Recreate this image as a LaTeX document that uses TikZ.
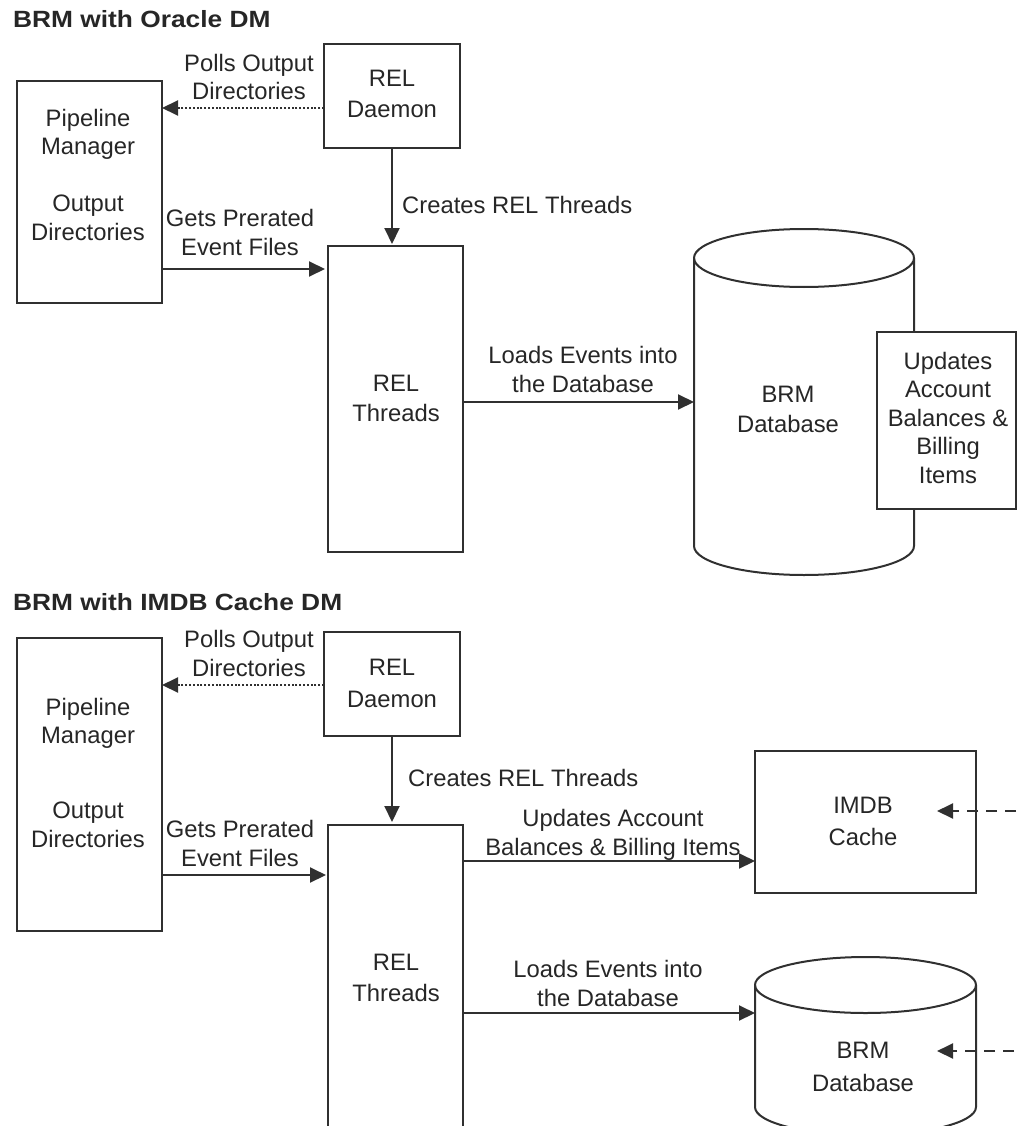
\documentclass[tikz,border=0pt]{standalone}
\usepackage{fontspec}
\setmainfont{Liberation Sans}
\usetikzlibrary{arrows.meta}
\definecolor{ln}{HTML}{303030}
\definecolor{tx}{HTML}{262626}
\begin{document}
\begin{tikzpicture}[x=1pt,y=-1pt,
  box/.style={draw=ln, line width=2pt, fill=white, inner sep=0pt, outer sep=0pt},
  anchorbox/.style={inner sep=0pt, outer sep=0pt},
  lbl/.style={text=tx, font=\fontsize{23.8}{28.5}\selectfont, align=center, inner sep=0pt, anchor=base},
  lblw/.style={text=tx, font=\fontsize{23.8}{28.5}\selectfont, inner sep=0pt, anchor=base west},
  ttl/.style={text=tx, font=\fontsize{23.5}{26}\selectfont\bfseries, inner sep=0pt, anchor=base west},
  arr/.style={draw=ln, line width=2pt, -{Triangle[length=16pt,width=15pt]}},
  dotarr/.style={arr, dash pattern=on 2pt off 1.8pt},
  dasharr/.style={arr, dash pattern=on 11pt off 8pt},
  cyl/.style={draw=ln, line width=2pt, fill=white}]
\useasboundingbox (0,0) rectangle (1018,1126);
\clip (0,0) rectangle (1018,1126);

% ================= TOP: BRM with Oracle DM =================
\node[ttl] (title1) at (13,28) {\scalebox{1.12}[1]{BRM with Oracle DM}};

\node[box, minimum width=145pt, minimum height=222pt] (pm1) at (89.5,192) {};
\node[lbl] (pm1t) at (88,240) {Pipeline\\Manager\\[28.5pt]Output\\Directories};

\node[box, minimum width=136pt, minimum height=104pt] (dae1) at (392,96) {};
\node[lbl] (dae1t) at (392,118) {REL\\[2.5pt]Daemon};

\node[box, minimum width=135pt, minimum height=306pt] (rel1) at (395.5,399) {};
\node[lbl] (rel1t) at (396,421) {REL\\[1.5pt]Threads};

% cylinder (BRM Database)
\draw[cyl] (694,258) -- (694,546) arc[start angle=180, end angle=0, x radius=110, y radius=29]
  -- (914,258) arc[start angle=0, end angle=-180, x radius=110, y radius=29] -- cycle;
\draw[draw=ln, line width=2pt] (694,258) arc[start angle=180, end angle=0, x radius=110, y radius=29];
\node[anchorbox, minimum width=220pt, minimum height=288pt] (db1) at (804,402) {};
\node[lbl] (db1t) at (788,432) {BRM\\[1.5pt]Database};

\node[box, minimum width=139pt, minimum height=177pt] (upd1) at (946.5,420.5) {};
\node[lbl] (upd1t) at (948,483) {Updates\\Account\\Balances \&\\Billing\\Items};

% connectors
\draw[dotarr] (dae1.west |- 0,108) -- (pm1.east |- 0,108);
\node[lbl] (polls1) at (249,100) {Polls Output\\Directories};

\draw[arr, shorten >=2pt] (dae1.south) -- (dae1.south |- rel1.north);
\node[lblw] (creates1) at (402,213) {Creates REL Threads};

\draw[arr, shorten >=3pt] (pm1.east |- 0,269) -- (rel1.west |- 0,269);
\node[lbl] (gets1) at (240,255) {Gets Prerated\\Event Files};

\draw[arr] (rel1.east |- 0,402) -- (db1.west |- 0,402);
\node[lbl] (loads1) at (583,392) {Loads Events into\\the Database};

% ================= BOTTOM: BRM with IMDB Cache DM =================
\node[ttl] (title2) at (13,610) {\scalebox{1.12}[1]{BRM with IMDB Cache DM}};

\node[box, minimum width=145pt, minimum height=293pt] (pm2) at (89.5,784.5) {};
\node[lbl] (pm2t) at (88,847) {Pipeline\\Manager\\[46.5pt]Output\\Directories};

\node[box, minimum width=136pt, minimum height=104pt] (dae2) at (392,684) {};
\node[lbl] (dae2t) at (392,707) {REL\\[3.5pt]Daemon};

\node[box, minimum width=135pt, minimum height=330pt] (rel2) at (395.5,990) {};
\node[lbl] (rel2t) at (396,1001) {REL\\[2pt]Threads};

\node[box, minimum width=221pt, minimum height=142pt] (imdb) at (865.5,822) {};
\node[lbl] (imdbt) at (863,845) {IMDB\\[3.5pt]Cache};

% cylinder (BRM Database, bottom)
\draw[cyl] (755,985) -- (755,1107) arc[start angle=180, end angle=0, x radius=110.5, y radius=28]
  -- (976,985) arc[start angle=0, end angle=-180, x radius=110.5, y radius=28] -- cycle;
\draw[draw=ln, line width=2pt] (755,985) arc[start angle=180, end angle=0, x radius=110.5, y radius=28];
\node[anchorbox, minimum width=221pt, minimum height=150pt] (db2) at (865.5,1050) {};
\node[lbl] (db2t) at (863,1091) {BRM\\[4.5pt]Database};

% connectors
\draw[dotarr] (dae2.west |- 0,685) -- (pm2.east |- 0,685);
\node[lbl] (polls2) at (249,676) {Polls Output\\Directories};

\draw[arr, shorten >=3pt] (dae2.south) -- (dae2.south |- rel2.north);
\node[lblw] (creates2) at (408,786) {Creates REL Threads};

\draw[arr, shorten >=2pt] (pm2.east |- 0,875) -- (rel2.west |- 0,875);
\node[lbl] (gets2) at (240,866) {Gets Prerated\\Event Files};

\draw[arr] (rel2.east |- 0,861) -- (imdb.west |- 0,861);
\node[lbl] (upd2) at (613,855) {Updates Account\\Balances \& Billing Items};

\draw[arr] (rel2.east |- 0,1013) -- (db2.west |- 0,1013);
\node[lbl] (loads2) at (608,1006) {Loads Events into\\the Database};

\coordinate (ext1) at (1016,811);
\coordinate (ext2) at (1014,1051);
\draw[dasharr] (ext1) -- (937,811);
\draw[dasharr] (ext2) -- (937,1051);
\end{tikzpicture}
\end{document}
